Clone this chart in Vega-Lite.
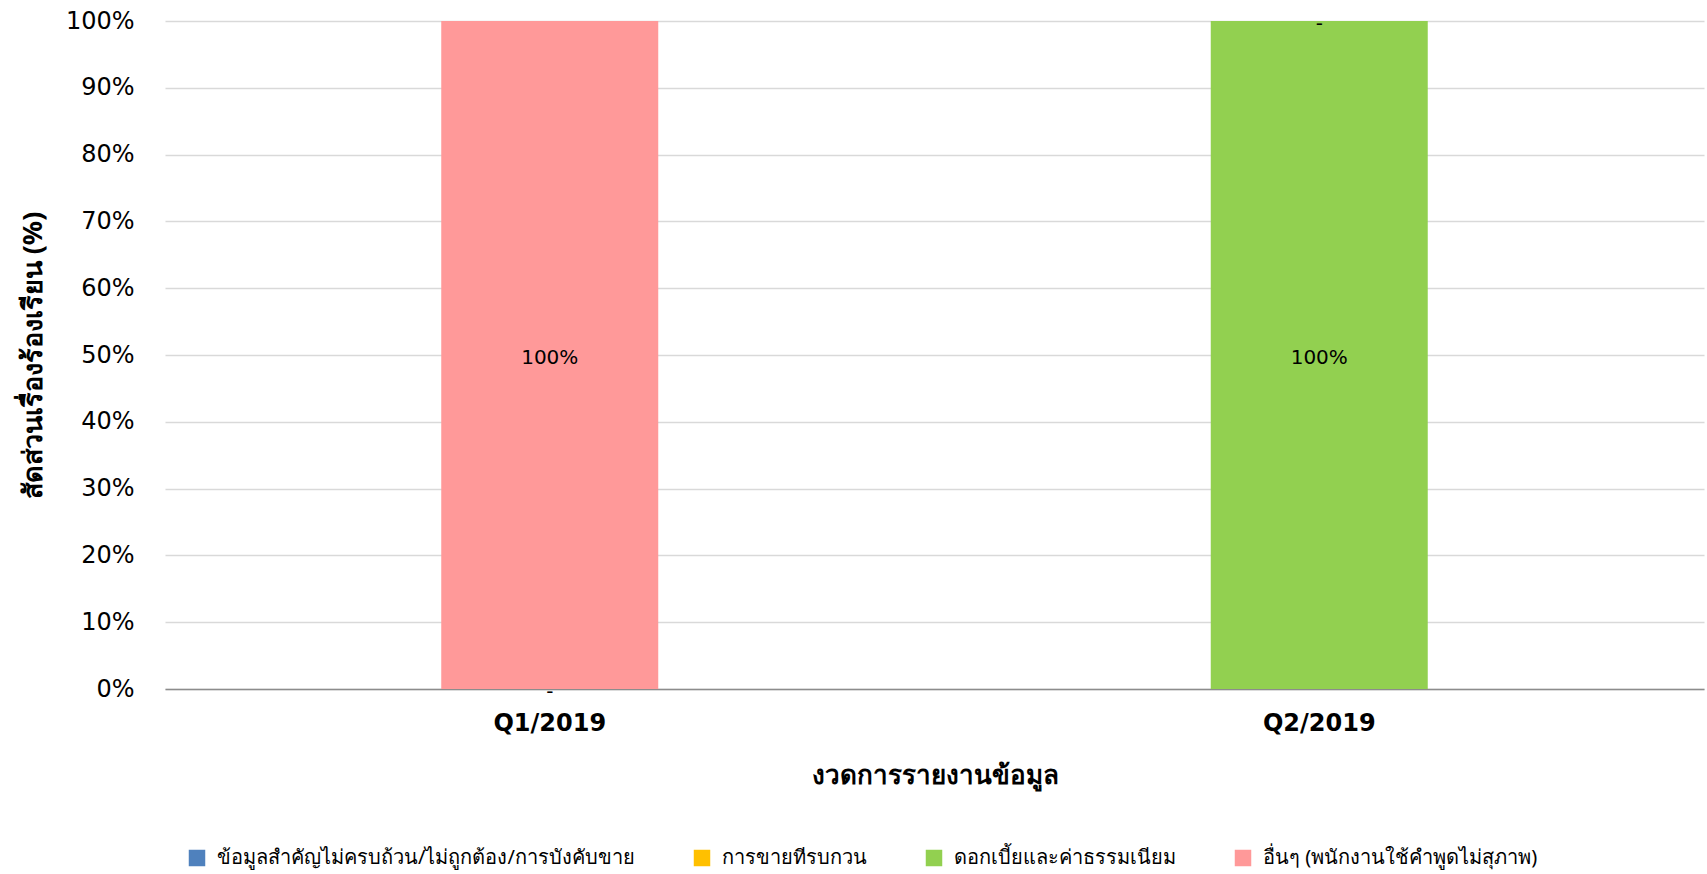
{
  "$schema": "https://vega.github.io/schema/vega-lite/v6.json",
  "width": 1539,
  "height": 668,
  "autosize": {"type": "none"},
  "padding": {"left": 165, "top": 21, "right": 3, "bottom": 185},
  "background": "white",
  "config": {"view": {"stroke": null}},
  "data": {
    "values": [
      {"q": "Q1/2019", "cat": "ข้อมูลสำคัญไม่ครบถ้วน/ไม่ถูกต้อง/การบังคับขาย", "k": 1, "v": 0, "label": "-"},
      {"q": "Q1/2019", "cat": "การขายทีรบกวน", "k": 2, "v": 0, "label": ""},
      {"q": "Q1/2019", "cat": "ดอกเบี้ยและค่าธรรมเนียม", "k": 3, "v": 0, "label": ""},
      {"q": "Q1/2019", "cat": "อื่นๆ (พนักงานใช้คำพูดไม่สุภาพ)", "k": 4, "v": 1, "label": "100%"},
      {"q": "Q2/2019", "cat": "ข้อมูลสำคัญไม่ครบถ้วน/ไม่ถูกต้อง/การบังคับขาย", "k": 1, "v": 0, "label": ""},
      {"q": "Q2/2019", "cat": "การขายทีรบกวน", "k": 2, "v": 0, "label": ""},
      {"q": "Q2/2019", "cat": "ดอกเบี้ยและค่าธรรมเนียม", "k": 3, "v": 1, "label": "100%"},
      {"q": "Q2/2019", "cat": "อื่นๆ (พนักงานใช้คำพูดไม่สุภาพ)", "k": 4, "v": 0, "label": "-"}
    ]
  },
  "encoding": {
    "x": {
      "field": "q",
      "type": "nominal",
      "sort": ["Q1/2019", "Q2/2019"],
      "scale": {"paddingInner": 0, "paddingOuter": 0},
      "title": "งวดการรายงานข้อมูล",
      "axis": {
        "labelAngle": 0,
        "ticks": false,
        "domainColor": "#8c8c8c",
        "domainWidth": 1.5,
        "grid": false,
        "labelFont": "DejaVu Sans",
        "labelFontWeight": "bold",
        "labelFontSize": 24,
        "labelColor": "#000000",
        "labelPadding": 22,
        "titleFont": "Noto Sans",
        "titleFontWeight": "bold",
        "titleFontSize": 26,
        "titleColor": "#000000",
        "titleY": 86,
        "titleBaseline": "middle"
      }
    },
    "order": {"field": "k", "type": "quantitative"}
  },
  "layer": [
    {
      "mark": {"type": "bar", "width": {"band": 0.282}},
      "encoding": {
        "y": {
          "field": "v",
          "type": "quantitative",
          "stack": "zero",
          "scale": {"domain": [0, 1]},
          "title": "สัดส่วนเรื่องร้องเรียน (%)",
          "axis": {
            "format": ".0%",
            "values": [0, 0.1, 0.2, 0.3, 0.4, 0.5, 0.6, 0.7, 0.8, 0.9, 1],
            "domain": false,
            "ticks": false,
            "gridColor": "#d9d9d9",
            "gridWidth": 1.5,
            "labelFont": "DejaVu Sans",
            "labelFontSize": 24,
            "labelColor": "#000000",
            "labelPadding": 31,
            "titleFont": "Noto Sans",
            "titleFontWeight": "bold",
            "titleFontSize": 27,
            "titleColor": "#000000",
            "titleX": -132,
            "titleY": 334,
            "titleAngle": 270,
            "titleAlign": "center",
            "titleBaseline": "middle"
          }
        },
        "color": {
          "field": "cat",
          "type": "nominal",
          "scale": {
            "domain": ["ข้อมูลสำคัญไม่ครบถ้วน/ไม่ถูกต้อง/การบังคับขาย", "การขายทีรบกวน", "ดอกเบี้ยและค่าธรรมเนียม", "อื่นๆ (พนักงานใช้คำพูดไม่สุภาพ)"],
            "range": ["#4F81BD", "#FFC000", "#92D050", "#FF9999"]
          },
          "legend": {
            "title": null,
            "orient": "none",
            "direction": "horizontal",
            "columns": 4,
            "legendX": 22,
            "legendY": 827,
            "symbolType": "square",
            "symbolSize": 272,
            "symbolStrokeWidth": 0,
            "symbolOpacity": 1,
            "labelFont": "Noto Sans",
            "labelFontSize": 20,
            "labelColor": "#000000",
            "labelOffset": 10,
            "labelLimit": 0,
            "columnPadding": 57
          }
        }
      }
    },
    {
      "mark": {"type": "text", "font": "DejaVu Sans", "fontSize": 20, "color": "#000000", "baseline": "middle", "dy": 3},
      "encoding": {
        "y": {"field": "v", "type": "quantitative", "stack": "zero", "bandPosition": 0.5},
        "detail": {"field": "cat"},
        "text": {"field": "label"}
      }
    }
  ]
}
